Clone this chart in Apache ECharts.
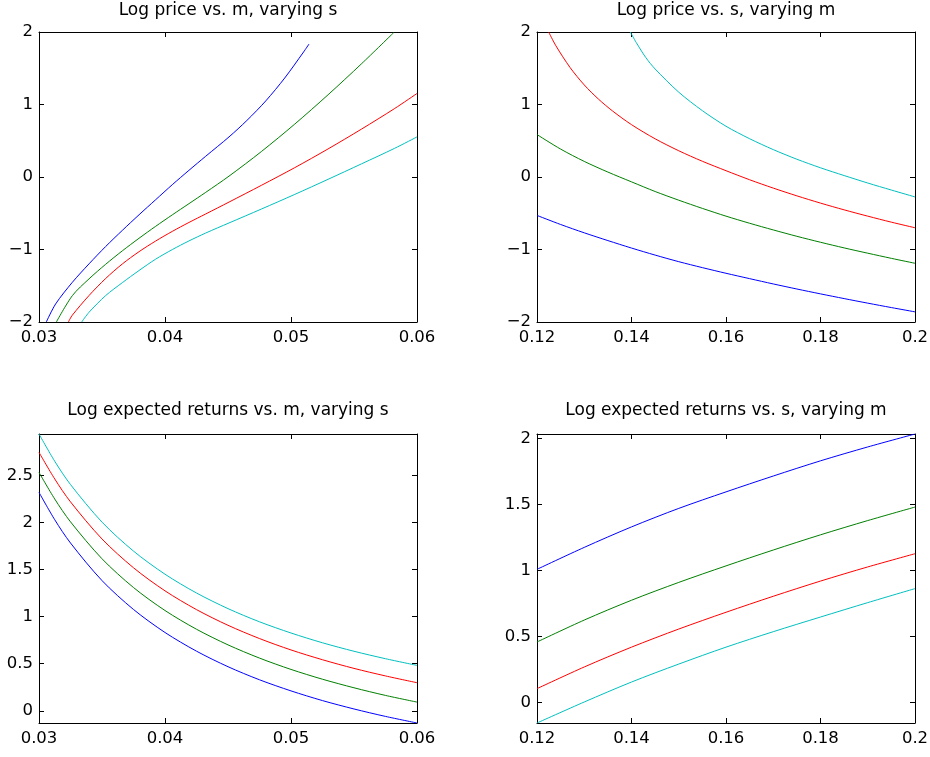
<!DOCTYPE html>
<html><head><meta charset="utf-8">
<script src="https://cdn.jsdelivr.net/npm/echarts@6/dist/echarts.min.js"></script>
<style>html,body{margin:0;padding:0;background:#fff}#c{width:930px;height:757px}</style>
</head><body><div id="c"></div>
<script>
// ---- Panel titles ----
const titles = [
  'Log price vs. m, varying s',
  'Log price vs. s, varying m',
  'Log expected returns vs. m, varying s',
  'Log expected returns vs. s, varying m'
];

// ---- Top-left: Log price vs. m, varying s ----
const tlBlueX  = [0.03058, 0.03132, 0.03265, 0.03397, 0.03529, 0.03661, 0.03794, 0.03926, 0.04058, 0.0419, 0.04323, 0.04508, 0.0465, 0.048, 0.0495, 0.051, 0.05143];
const tlBlueY  = [-2.0, -1.751, -1.452, -1.198, -0.959, -0.737, -0.521, -0.313, -0.106, 0.092, 0.286, 0.553, 0.78, 1.05, 1.365, 1.725, 1.834];
const tlGreenX = [0.03138, 0.03265, 0.03397, 0.03529, 0.03661, 0.03794, 0.03926, 0.04058, 0.0419, 0.04323, 0.04508, 0.04765, 0.0503, 0.05294, 0.05558, 0.05815];
const tlGreenY = [-2.0, -1.636, -1.405, -1.204, -1.019, -0.845, -0.680, -0.522, -0.368, -0.212, 0.012, 0.351, 0.730, 1.134, 1.559, 1.991];
const tlRedX   = [0.03233, 0.03265, 0.03397, 0.03529, 0.03661, 0.03794, 0.03926, 0.04058, 0.0419, 0.04323, 0.04508, 0.04765, 0.0503, 0.05294, 0.05558, 0.05823, 0.06];
const tlRedY   = [-2.0, -1.905, -1.635, -1.40, -1.200, -1.030, -0.883, -0.750, -0.627, -0.510, -0.346, -0.115, 0.129, 0.387, 0.659, 0.945, 1.152];
const tlCyanX  = [0.03339, 0.03397, 0.03529, 0.03661, 0.03794, 0.03926, 0.04058, 0.0419, 0.04323, 0.04508, 0.04765, 0.0503, 0.05294, 0.05558, 0.05823, 0.06];
const tlCyanY  = [-2.0, -1.866, -1.636, -1.458, -1.290, -1.133, -1.001, -0.882, -0.773, -0.634, -0.442, -0.240, -0.032, 0.180, 0.396, 0.553];

// ---- Top-right: Log price vs. s, varying m ----
const trRedX   = [0.12247, 0.124, 0.127, 0.13, 0.133, 0.136, 0.14, 0.145, 0.15, 0.155, 0.16, 0.165, 0.17, 0.175, 0.18, 0.185, 0.19, 0.195, 0.2];
const trRedY   = [2.0, 1.81, 1.51, 1.27, 1.075, 0.91, 0.722, 0.527, 0.362, 0.217, 0.087, -0.038, -0.153, -0.26, -0.36, -0.453, -0.54, -0.623, -0.70];
const trCyanX  = [0.13975, 0.141, 0.143, 0.145, 0.15, 0.155, 0.16, 0.165, 0.17, 0.175, 0.18, 0.185, 0.19, 0.195, 0.2];
const trCyanY  = [2.0, 1.855, 1.65, 1.49, 1.17, 0.915, 0.70, 0.528, 0.378, 0.245, 0.127, 0.02, -0.083, -0.18, -0.275];
const trFullX  = [0.12, 0.125, 0.13, 0.135, 0.14, 0.145, 0.15, 0.155, 0.16, 0.165, 0.17, 0.175, 0.18, 0.185, 0.19, 0.195, 0.2];
const trGreenY = [0.585, 0.385, 0.215, 0.068, -0.067, -0.2, -0.32, -0.433, -0.54, -0.638, -0.73, -0.818, -0.9, -0.978, -1.051, -1.122, -1.19];
const trBlueY  = [-0.53, -0.655, -0.77, -0.877, -0.98, -1.077, -1.168, -1.25, -1.328, -1.402, -1.475, -1.545, -1.612, -1.677, -1.74, -1.801, -1.86];

// ---- Bottom-left: Log expected returns vs. m, varying s ----
const blX      = [0.03, 0.03125, 0.0325, 0.035, 0.0375, 0.04, 0.0425, 0.045, 0.0475, 0.05, 0.0525, 0.055, 0.0575, 0.06];
const blCyanY  = [2.94, 2.65, 2.403, 2.004, 1.696, 1.4505, 1.251, 1.085, 0.945, 0.826, 0.722, 0.632, 0.553, 0.482];
const blRedY   = [2.745, 2.462, 2.219, 1.825, 1.519, 1.274, 1.0745, 0.908, 0.767, 0.646, 0.542, 0.450, 0.370, 0.298];
const blGreenY = [2.532, 2.249, 2.007, 1.6145, 1.309, 1.065, 0.866, 0.700, 0.5595, 0.439, 0.335, 0.244, 0.163, 0.092];
const blBlueY  = [2.32, 2.029, 1.782, 1.383, 1.076, 0.8315, 0.633, 0.468, 0.329, 0.211, 0.108, 0.019, -0.060, -0.130];

// ---- Bottom-right: Log expected returns vs. s, varying m ----
const brX      = [0.12, 0.13, 0.14, 0.15, 0.16, 0.17, 0.18, 0.19, 0.2];
const brBlueY  = [1.009, 1.175, 1.33, 1.47, 1.595, 1.715, 1.83, 1.935, 2.033];
const brGreenY = [0.459, 0.625, 0.775, 0.91, 1.035, 1.155, 1.27, 1.378, 1.48];
const brRedY   = [0.106, 0.27, 0.42, 0.557, 0.684, 0.805, 0.92, 1.027, 1.127];
const brCyanY  = [-0.154, 0.005, 0.156, 0.292, 0.42, 0.537, 0.648, 0.757, 0.863];

// ---- Axis ranges ----
const xRanges = [[0.03, 0.06, 0.01], [0.12, 0.2, 0.02], [0.03, 0.06, 0.01], [0.12, 0.2, 0.02]];
const yRanges = [[-2, 2, 1], [-2, 2, 1], [-0.13, 2.94, null], [-0.154, 2.033, null]];

const C = { blue: '#0000ff', green: '#008000', red: '#ff0000', cyan: '#00bfbf' };
const FONT = 'DejaVu Sans';
const grids = [
  { left: 39, top: 32, width: 378, height: 290 },
  { left: 537, top: 32, width: 378, height: 290 },
  { left: 39, top: 434, width: 378, height: 289 },
  { left: 537, top: 434, width: 378, height: 289 }
].map(g => Object.assign({ containLabel: false, outerBoundsMode: 'none' }, g));

function fmt(v) {
  const n = parseFloat(Number(v).toFixed(5));
  return String(n).replace('-', '\u2212');
}

const xAxis = [], yAxis = [];
grids.forEach((g, i) => {
  const [x0, x1, xi] = xRanges[i];
  const [y0, y1, yi] = yRanges[i];
  const base = (pos, show, isY, mn, mx, iv) => {
    const a = {
      type: 'value', gridIndex: i, position: pos, min: mn, max: mx,
      axisLine: { show: true, onZero: false, lineStyle: { color: '#000', width: 1 } },
      axisTick: { show: true, inside: true, length: 5, lineStyle: { color: '#000', width: 1 } },
      splitLine: { show: false },
      axisLabel: {
        show: show, color: '#000', fontFamily: FONT, fontSize: 16.5,
        margin: isY ? 6 : 7, formatter: fmt,
        showMinLabel: iv != null, showMaxLabel: iv != null
      }
    };
    if (iv != null) a.interval = iv; else a.splitNumber = 5;
    return a;
  };
  xAxis.push(base('bottom', true, false, x0, x1, xi));
  xAxis.push(base('top', false, false, x0, x1, xi));
  yAxis.push(base('left', true, true, y0, y1, yi));
  yAxis.push(base('right', false, true, y0, y1, yi));
});

function line(xs, ys, color, gi) {
  return {
    type: 'line', xAxisIndex: 2 * gi, yAxisIndex: 2 * gi,
    data: xs.map((x, k) => [x, ys[k]]),
    showSymbol: false, symbol: 'none', smooth: 0.3,
    lineStyle: { color: color, width: 1 }, itemStyle: { color: color },
    silent: true, clip: true
  };
}

const series = [
  line(tlBlueX, tlBlueY, C.blue, 0),
  line(tlGreenX, tlGreenY, C.green, 0),
  line(tlRedX, tlRedY, C.red, 0),
  line(tlCyanX, tlCyanY, C.cyan, 0),
  line(trFullX, trBlueY, C.blue, 1),
  line(trFullX, trGreenY, C.green, 1),
  line(trRedX, trRedY, C.red, 1),
  line(trCyanX, trCyanY, C.cyan, 1),
  line(blX, blBlueY, C.blue, 2),
  line(blX, blGreenY, C.green, 2),
  line(blX, blRedY, C.red, 2),
  line(blX, blCyanY, C.cyan, 2),
  line(brX, brBlueY, C.blue, 3),
  line(brX, brGreenY, C.green, 3),
  line(brX, brRedY, C.red, 3),
  line(brX, brCyanY, C.cyan, 3)
];

const titleY = [2, 2, 402, 402];
const graphic = titles.map((t, i) => ({
  type: 'text', x: grids[i].left + grids[i].width / 2, y: titleY[i],
  style: { text: t, align: 'center', verticalAlign: 'top', fontSize: 17, fontFamily: FONT, fill: '#000' }
}));

const chart = echarts.init(document.getElementById('c'), null, { renderer: 'canvas' });
chart.setOption({
  animation: false,
  backgroundColor: '#fff',
  grid: grids, xAxis: xAxis, yAxis: yAxis, series: series, graphic: graphic
});
</script></body></html>
